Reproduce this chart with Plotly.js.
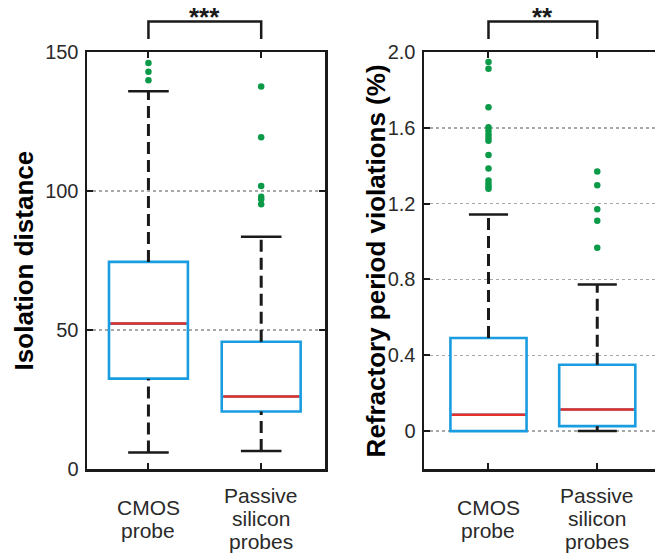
<!DOCTYPE html>
<html><head><meta charset="utf-8">
<script src="https://cdn.plot.ly/plotly-3.0.1.min.js"></script>
<style>html,body{margin:0;padding:0;background:#fff;overflow:hidden}</style>
</head><body><div id="chart" style="width:655px;height:553px"></div>
<script>
// ---- data ----
const groupLines = [["CMOS", "probe"], ["Passive", "silicon", "probes"]];
const groupPos = [0, 1];

// Isolation distance
const isoQ1 = [32.5, 20.7];
const isoMedian = [52.3, 26.1];
const isoQ3 = [74.5, 45.8];
const isoLowerWhisker = [5.9, 6.5];
const isoUpperWhisker = [135.9, 83.5];
const isoOutliersCMOS = [146.0, 142.9, 139.8];
const isoOutliersPassive = [137.6, 119.3, 101.8, 97.9, 97.0, 95.2];
const isoTickVals = [0, 50, 100, 150];
const isoTickText = ["0", "50", "100", "150"];

// Refractory period violations (%)
const rpvQ1 = [0.0, 0.026];
const rpvMedian = [0.086, 0.114];
const rpvQ3 = [0.491, 0.350];
const rpvLowerWhisker = [0.0, 0.0];
const rpvUpperWhisker = [1.143, 0.773];
const rpvOutliersCMOS = [1.947, 1.911, 1.709, 1.603, 1.585, 1.565, 1.548, 1.532, 1.457, 1.386, 1.322, 1.305, 1.290, 1.278];
const rpvOutliersPassive = [1.370, 1.297, 1.170, 1.110, 0.967];
const rpvTickVals = [0, 0.4, 0.8, 1.2, 1.6, 2.0];
const rpvTickText = ["0", "0.4", "0.8", "1.2", "1.6", "2.0"];

const yTitles = ["Isolation distance", "Refractory period violations (%)"];
const sigLabels = ["***", "**"];

// ---- style ----
const BLUE = "#1a9de0", RED = "#e8302a", GREEN = "#0a9a48", INK = "#1a1a1a", TXT = "#2a2a2a";
const FONT = "Liberation Sans, Arial, Helvetica, sans-serif";
const BOXW = 0.70, CAPW = 0.36;

function panel(xa, ya, q1, med, q3, lw, uw, outC, outP) {
  const t = [];
  // whiskers (dashed)
  const wx = [], wy = [];
  groupPos.forEach((p, i) => {
    wx.push(p, p, null, p, p, null);
    wy.push(q3[i], uw[i], null, lw[i], q1[i], null);
  });
  t.push({type: "scatter", mode: "lines", x: wx, y: wy, xaxis: xa, yaxis: ya,
    line: {color: INK, width: 3, dash: "12px,6px"}, hoverinfo: "skip", showlegend: false});
  // caps (a cap hidden by the box edge is not drawn)
  const cx = [], cy = [];
  groupPos.forEach((p, i) => {
    if (uw[i] > q3[i]) { cx.push(p - CAPW / 2, p + CAPW / 2, null); cy.push(uw[i], uw[i], null); }
    if (lw[i] < q1[i]) { cx.push(p - CAPW / 2, p + CAPW / 2, null); cy.push(lw[i], lw[i], null); }
  });
  t.push({type: "scatter", mode: "lines", x: cx, y: cy, xaxis: xa, yaxis: ya,
    line: {color: INK, width: 2.5}, hoverinfo: "skip", showlegend: false});
  // boxes
  t.push({type: "box", x: groupPos, q1: q1, median: med, q3: q3, lowerfence: q1, upperfence: q3,
    width: BOXW, whiskerwidth: 0, xaxis: xa, yaxis: ya, line: {color: BLUE, width: 2.6},
    fillcolor: "rgba(255,255,255,0)", boxpoints: false, hoverinfo: "skip", showlegend: false});
  // medians
  const mx = [], my = [];
  groupPos.forEach((p, i) => {
    mx.push(p - BOXW / 2 + 0.015, p + BOXW / 2 - 0.015, null);
    my.push(med[i], med[i], null);
  });
  t.push({type: "scatter", mode: "lines", x: mx, y: my, xaxis: xa, yaxis: ya,
    line: {color: RED, width: 2.5}, hoverinfo: "skip", showlegend: false});
  // outliers
  const ox = [], oy = [];
  outC.forEach(v => { ox.push(groupPos[0]); oy.push(v); });
  outP.forEach(v => { ox.push(groupPos[1]); oy.push(v); });
  t.push({type: "scatter", mode: "markers", x: ox, y: oy, xaxis: xa, yaxis: ya,
    marker: {color: GREEN, size: 6.5, line: {width: 0}}, hoverinfo: "skip", showlegend: false});
  return t;
}

const data = [].concat(
  panel("x", "y", isoQ1, isoMedian, isoQ3, isoLowerWhisker, isoUpperWhisker, isoOutliersCMOS, isoOutliersPassive),
  panel("x2", "y2", rpvQ1, rpvMedian, rpvQ3, rpvLowerWhisker, rpvUpperWhisker, rpvOutliersCMOS, rpvOutliersPassive)
);

const W = 655, H = 553, TOP = 52, BOT = 469;
const plotH = BOT - TOP;

function xAxis(domain, range, anchor) {
  return {domain: domain, range: range, anchor: anchor, tickvals: groupPos, showticklabels: false,
    ticks: "inside", ticklen: 6, tickwidth: 2, tickcolor: INK, showline: true, linewidth: 2.5,
    linecolor: INK, mirror: "ticks", showgrid: false, zeroline: false, fixedrange: true};
}
function yAxis(range, tv, tt, anchor, mirror) {
  return {domain: [0, 1], range: range, anchor: anchor, tickvals: tv, ticktext: tt,
    ticks: "inside", ticklen: 6, tickwidth: 2, tickcolor: INK, showline: true, linewidth: 2.5,
    linecolor: INK, mirror: mirror, showgrid: true, gridcolor: "#a8a8a8", griddash: "dot",
    gridwidth: 1.5, zeroline: false, fixedrange: true, ticklabelstandoff: 2,
    tickfont: {family: FONT, size: 20, color: TXT}};
}

const xDom1 = [87 / W, 325 / W], xDom2 = [424 / W, 1];
const annotations = [];
const shapes = [];
const LINE_GAP = 23, BASE_CENTER = 57.3, FS_X = 21, FS_T = 26;
const titleBaselinePx = [33, 385];
[["x", xDom1], ["x2", xDom2]].forEach(([xa, dom], k) => {
  groupLines.forEach((lines, i) => {
    const n = lines.length;
    lines.forEach((ln, j) => {
      const baseline = BASE_CENTER + (j - (n - 1) / 2) * LINE_GAP;
      const mid = baseline - 0.35 * FS_X;
      annotations.push({text: ln, x: groupPos[i], xref: xa, y: 0, yref: "paper",
        yanchor: "middle", xanchor: "center", yshift: -mid, showarrow: false,
        font: {family: FONT, size: FS_X, color: TXT}});
    });
  });
  // y-axis title (rotated)
  annotations.push({text: yTitles[k], textangle: -90, x: (titleBaselinePx[k] - 0.35 * FS_T) / W,
    xref: "paper", xanchor: "center", y: 0.5, yref: "paper", yanchor: "middle", showarrow: false,
    font: {family: FONT, size: FS_T, color: "#000", weight: "bold"}});
  // significance bracket
  const yTop = (BOT - 21.5) / plotH, yBot = (BOT - 39) / plotH;
  shapes.push({type: "path", xref: xa, yref: "paper",
    path: `M ${groupPos[0]},${yBot} L ${groupPos[0]},${yTop} L ${groupPos[1]},${yTop} L ${groupPos[1]},${yBot}`,
    line: {color: INK, width: 2.5}});
  annotations.push({text: sigLabels[k], x: (groupPos[0] + groupPos[1]) / 2, xref: xa,
    y: (BOT - 17) / plotH, yref: "paper", yanchor: "middle", xanchor: "center", showarrow: false,
    font: {family: FONT, size: 26, color: INK, weight: "bold"}});
});

const layout = {
  width: W, height: H, margin: {l: 0, r: 0, t: TOP, b: H - BOT, pad: 0},
  paper_bgcolor: "#fff", plot_bgcolor: "#fff", showlegend: false,
  xaxis: xAxis(xDom1, [-0.545, 1.566], "y"),
  yaxis: yAxis([0, 150], isoTickVals, isoTickText, "x", "ticks"),
  xaxis2: xAxis(xDom2, [-0.593, 1.531], "y2"),
  yaxis2: yAxis([-0.2, 2.0], rpvTickVals, rpvTickText, "x2", false),
  annotations: annotations, shapes: shapes
};

Plotly.newPlot("chart", data, layout, {staticPlot: true, displayModeBar: false});
</script></body></html>
